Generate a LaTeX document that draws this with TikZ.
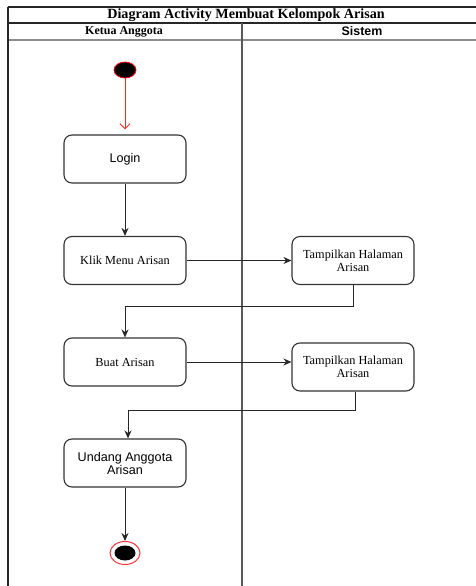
\documentclass[tikz,border=0pt]{standalone}
\usepackage{fontspec}
\setmainfont{Liberation Serif}
\newfontfamily\sansf{Liberation Sans}
\usetikzlibrary{arrows.meta,shapes.geometric}
\begin{document}
\begin{tikzpicture}[x=1pt,y=-1pt,
  lane/.style={line width=1.1pt,black!85},
  act/.style={draw=black!80,line width=1.1pt,rounded corners=8pt,fill=white,
    minimum width=122pt,minimum height=48pt,align=center,inner sep=2pt},
  flow/.style={line width=1pt,black!85,-{Stealth[length=8pt,width=7pt]}},
  startflow/.style={line width=1pt,red!85,shorten >=5pt,-{Straight Barb[length=5pt,width=10pt]}},
  serif/.style={font=\fontsize{12.3}{13}\selectfont},
  sans/.style={font=\sansf\fontsize{12.6}{13}\selectfont}]
\useasboundingbox (0,0) rectangle (475,586);
% swimlane frame
\draw[lane] (8,7) -- (480,7);
\draw[lane] (8,23) -- (480,23);
\draw[line width=1.6pt,black!45] (8,40) -- (480,40);
\draw[lane] (8,7) -- (8,586);
\draw[line width=1.1pt,black!65] (242,23) -- (242,586);
% headers
\node[font=\bfseries\fontsize{14.1}{15}\selectfont] (title) at (246,15) {Diagram Activity Membuat Kelompok Arisan};
\node[font=\bfseries\fontsize{12}{12}\selectfont] (laneA) at (124,31.5) {Ketua Anggota};
\node[font=\sansf\bfseries\fontsize{12.4}{12}\selectfont] (laneB) at (362,31.5) {Sistem};
% start and end
\node[draw=red,line width=0.8pt,fill=black,ellipse,minimum width=22pt,minimum height=16pt,inner sep=0pt] (start) at (125,70) {};
\node[draw=red!80,line width=1pt,fill=white,ellipse,minimum width=30pt,minimum height=23pt,inner sep=0pt] (endo) at (125,553) {};
\node[fill=black,ellipse,minimum width=21pt,minimum height=15pt,inner sep=0pt] (endi) at (125,553) {};
% activities
\node[act,sans] (login) at (125,159) {Login};
\node[act,serif] (klik) at (125,260.5) {Klik Menu Arisan};
\node[act,serif] (tamp1) at (353,260.5) {Tampilkan Halaman\\Arisan};
\node[act,serif] (buat) at (125,362) {Buat Arisan};
\node[act,serif] (tamp2) at (353,367) {Tampilkan Halaman\\Arisan};
\node[act,sans] (undang) at (125,463) {Undang Anggota\\Arisan};
% flows
\draw[startflow] (start) -- (login);
\draw[flow] (login) -- (klik);
\draw[flow] (klik) -- (tamp1);
\draw[flow] (tamp1.south) -- ++(0,21) -| (buat.north);
\draw[flow] (buat.east) -- (buat.east -| tamp2.west);
\draw[flow] ([xshift=2pt]tamp2.south) -- ++(0,19) -| ([xshift=3pt]undang.north);
\draw[flow] (undang) -- (endo);
\end{tikzpicture}
\end{document}
